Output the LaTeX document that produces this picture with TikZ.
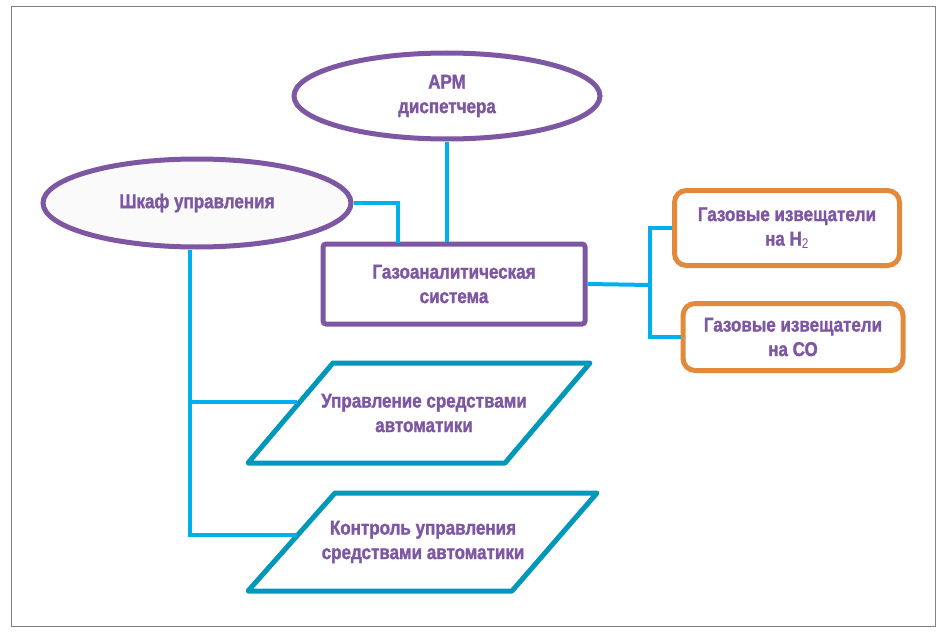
\documentclass[tikz,border=0pt]{standalone}
\usepackage{fontspec}
\setmainfont{Liberation Sans}
\newfontfamily\condbold{Liberation Sans Bold}[FakeStretch=0.85, FakeBold=1.5]
\newfontfamily\condreg{Liberation Sans}[FakeStretch=0.85]
\usetikzlibrary{shapes.geometric}
\definecolor{vio}{HTML}{7E57A2}
\definecolor{sky}{HTML}{00B0EC}
\definecolor{teal2}{HTML}{0098BA}
\definecolor{orng}{HTML}{E3893A}
\tikzset{
  lbl/.style={text=vio, font=\fontsize{20}{24.5}\selectfont\condbold, align=center},
  ell/.style={ellipse, draw=vio, line width=5pt, fill=white, inner sep=0pt, lbl},
  gasbox/.style={rectangle, draw=vio, line width=5pt, rounded corners=3pt, lbl},
  detbox/.style={rectangle, draw=orng, line width=5pt, rounded corners=12pt, lbl},
  para/.style={draw=teal2, line width=5pt, line join=round},
  conn/.style={draw=sky, line width=4pt},
}
\begin{document}
\begin{tikzpicture}[x=1pt,y=-1pt]
\useasboundingbox (0,0) rectangle (943,634);
\draw[gray, line width=1pt] (11,7) rectangle (935,626);
% connector end points
\coordinate (k) at (398,243);
\coordinate (j1) at (190,402);
\coordinate (p1w) at (297,402);
\coordinate (p2w) at (297,535);
\coordinate (r) at (650,285);
% nodes
\node[ell, minimum width=306pt, minimum height=86pt] (arm) at (447,96) {АРМ\\диспетчера};
\node[ell, fill=gray!4, minimum width=308pt, minimum height=88pt] (shkaf) at (197,203) {Шкаф управления};
\node[gasbox, minimum width=262pt, minimum height=80pt] (gas) at (454,284) {Газоаналитическая\\система};
\node[detbox, minimum width=225pt, minimum height=75pt] (det1) at (787,228) {Газовые извещатели\\на H\textsubscript{\condreg 2}};
\node[detbox, minimum width=220pt, minimum height=67pt] (det2) at (793,337) {Газовые извещатели\\на СО};
% parallelograms
\draw[para] (333,363) -- (590,363) -- (505,463) -- (248,463) -- cycle;
\draw[para] (335,493) -- (597,493) -- (512,591) -- (248,591) -- cycle;
\node[lbl] (upr) at (424,413) {Управление средствами\\автоматики};
\node[lbl] (ctl) at (423,542) {Контроль управления\\средствами автоматики};
% connectors
\draw[conn] (arm.south) -- (arm.south |- gas.north);
\draw[conn] (shkaf.east) -| (k);
\draw[conn] (shkaf.south -| j1) |- (p2w);
\draw[conn] (j1) -- (p1w);
\draw[conn] (gas.east) -- (r);
\draw[conn] (det1.west) -| (r) |- (det2.west);
\end{tikzpicture}
\end{document}
